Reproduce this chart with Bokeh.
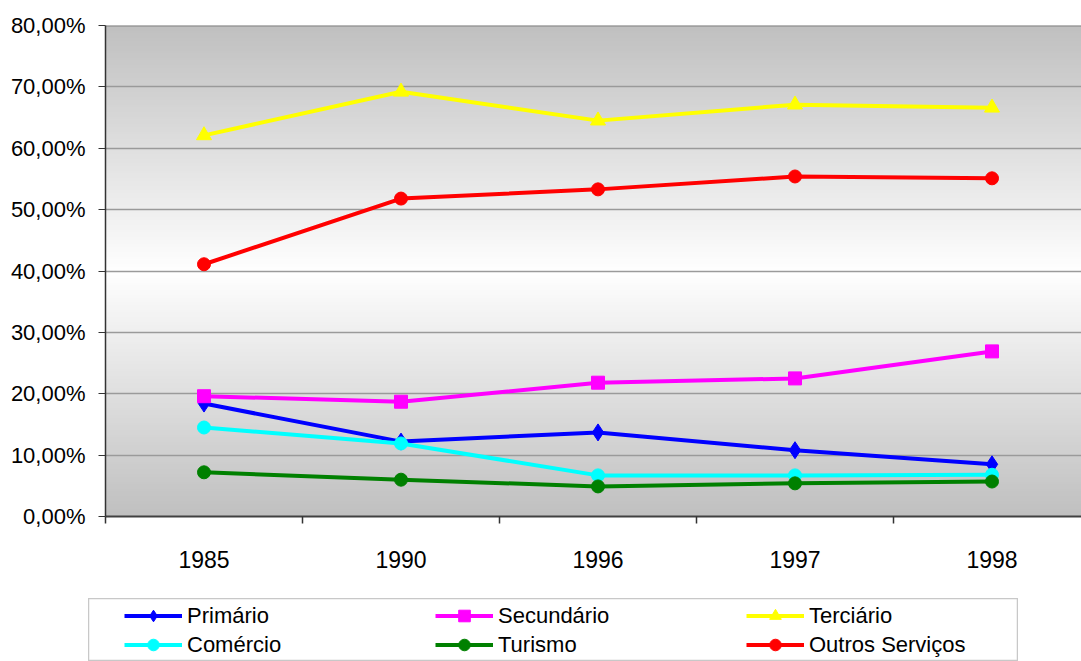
import numpy as np
from bokeh.plotting import figure
from bokeh.layouts import column, row
from bokeh.models import Range1d, FixedTicker, Legend, LegendItem, Spacer
from bokeh.embed import file_html
from bokeh.resources import INLINE

years = ["1985", "1990", "1996", "1997", "1998"]
primario = [18.4, 12.2, 13.7, 10.8, 8.5]
secundario = [19.6, 18.7, 21.8, 22.5, 26.9]
terciario = [62.1, 69.2, 64.5, 67.1, 66.6]
comercio = [14.5, 11.9, 6.7, 6.7, 6.8]
turismo = [7.2, 6.0, 4.9, 5.4, 5.7]
outros = [41.1, 51.8, 53.3, 55.4, 55.1]
y_ticks = [0, 10, 20, 30, 40, 50, 60, 70, 80]

FONT = "Liberation Sans"
xs = [i + 0.5 for i in range(len(years))]
x_end = 976 / 197.0

p = figure(width=1081, height=598, output_backend="svg", toolbar_location=None,
           x_range=Range1d(0, x_end), y_range=Range1d(0, 80),
           min_border_left=105, min_border_top=25, min_border_bottom=82, min_border_right=0)
p.outline_line_color = None
p.background_fill_color = "white"
p.border_fill_color = "white"

# gradient background (grey -> white -> grey)
n = 200
yy = (np.arange(n) + 0.5) / n * 80
g = np.where(yy <= 40, 192 + (255 - 192) * yy / 40, 192 + (255 - 192) * (80 - yy) / 40)
img = np.zeros((n, 1), dtype=np.uint32)
view = img.view(dtype=np.uint8).reshape((n, 1, 4))
view[:, 0, 0] = g.astype(np.uint8)
view[:, 0, 1] = g.astype(np.uint8)
view[:, 0, 2] = g.astype(np.uint8)
view[:, 0, 3] = 255
p.image_rgba(image=[img], x=0, y=0, dw=x_end, dh=80, level="image")

# grid
p.xgrid.grid_line_color = None
p.ygrid.grid_line_color = "#9a9a9a"
p.ygrid.grid_line_width = 1.5
p.ygrid.ticker = FixedTicker(ticks=y_ticks)

# y axis
p.yaxis.ticker = FixedTicker(ticks=y_ticks)
p.yaxis.major_label_overrides = {v: f"{v},00%" for v in y_ticks}
p.yaxis.major_label_text_font = FONT
p.yaxis.major_label_text_font_size = "22px"
p.yaxis.major_label_text_color = "black"
p.yaxis.axis_line_color = "#333333"
p.yaxis.axis_line_width = 1.5
p.yaxis.major_tick_line_color = "#333333"
p.yaxis.major_tick_out = 7
p.yaxis.major_tick_in = 0
p.yaxis.minor_tick_line_color = None
p.yaxis.major_label_standoff = 13

# x axis
p.xaxis.ticker = FixedTicker(ticks=xs, minor_ticks=list(range(len(years) + 1)))
p.xaxis.major_label_overrides = {x: y for x, y in zip(xs, years)}
p.xaxis.major_label_text_font = FONT
p.xaxis.major_label_text_font_size = "23px"
p.xaxis.major_label_text_color = "black"
p.xaxis.axis_line_color = "#404040"
p.xaxis.axis_line_width = 2
p.xaxis.major_tick_out = 0
p.xaxis.major_tick_in = 0
p.xaxis.minor_tick_out = 7
p.xaxis.minor_tick_in = 0
p.xaxis.minor_tick_line_color = "#333333"
p.xaxis.minor_tick_line_width = 1.5
p.xaxis.major_label_standoff = 27

# top border
p.line(x=[0, x_end], y=[80, 80], line_color="#808080", line_width=2)

# name, values, colour, marker, size
series = [
    ("Primário", primario, "#0000FF", "diamond", 17),
    ("Secundário", secundario, "#FF00FF", "square", 13),
    ("Terciário", terciario, "#FFFF00", "triangle", 15),
    ("Comércio", comercio, "#00FFFF", "circle", 13),
    ("Turismo", turismo, "#008000", "circle", 13),
    ("Outros Serviços", outros, "#FF0000", "circle", 13),
]

# legend panel (its renderers reuse the data but lie outside the visible range)
p2 = figure(width=930, height=63, output_backend="svg", toolbar_location=None,
            x_range=Range1d(0, 1), y_range=Range1d(-2, -1),
            x_axis_location=None, y_axis_location=None,
            min_border_left=0, min_border_right=0, min_border_top=0, min_border_bottom=0)
p2.xgrid.grid_line_color = None
p2.ygrid.grid_line_color = None
p2.outline_line_color = "#c8c8c8"
p2.outline_line_width = 1.5
p2.background_fill_color = "white"
p2.border_fill_color = "white"

items = []
for name, vals, col, mk, sz in series:
    p.line(x=xs, y=vals, line_color=col, line_width=4)
    p.scatter(x=xs, y=vals, marker=mk, size=sz, fill_color=col, line_color=col)
    l2 = p2.line(x=xs, y=vals, line_color=col, line_width=4)
    s2 = p2.scatter(x=xs, y=vals, marker=mk, size=sz, fill_color=col, line_color=col)
    items.append(LegendItem(label=name, renderers=[l2, s2]))

legend = Legend(items=items, ncols=3, orientation="horizontal",
                location=(36, 2), margin=0, padding=1, spacing=0,
                glyph_width=58, glyph_height=29, label_height=29, label_width=248,
                label_standoff=5, label_text_font=FONT, label_text_font_size="22px",
                label_text_color="black",
                border_line_color=None, background_fill_alpha=0)
p2.add_layout(legend, "center")

layout = column(p, row(Spacer(width=88, height=63), p2))
open("out.html", "w").write(file_html(layout, INLINE))
